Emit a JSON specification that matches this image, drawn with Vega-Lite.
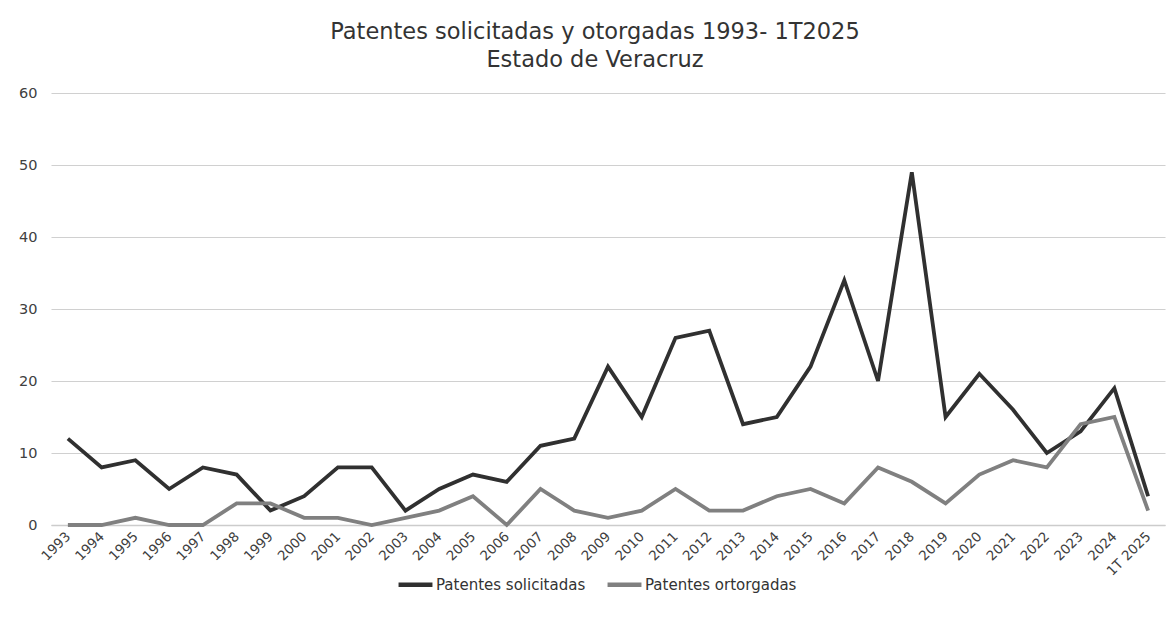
{
  "$schema": "https://vega.github.io/schema/vega-lite/v6.json",
  "autosize": "none",
  "width": 1114,
  "height": 432,
  "padding": {"left": 51, "top": 93, "right": 9, "bottom": 109},
  "background": "white",
  "title": {
    "text": ["Patentes solicitadas y otorgadas 1993- 1T2025", "Estado de Veracruz"],
    "font": "DejaVu Sans",
    "fontSize": 22.5,
    "fontWeight": "normal",
    "color": "#333333",
    "lineHeight": 28,
    "offset": 14,
    "dx": -13,
    "anchor": "middle"
  },
  "data": {
    "values": [
      {"periodo": "1993", "serie": "Patentes solicitadas", "valor": 12},
      {"periodo": "1994", "serie": "Patentes solicitadas", "valor": 8},
      {"periodo": "1995", "serie": "Patentes solicitadas", "valor": 9},
      {"periodo": "1996", "serie": "Patentes solicitadas", "valor": 5},
      {"periodo": "1997", "serie": "Patentes solicitadas", "valor": 8},
      {"periodo": "1998", "serie": "Patentes solicitadas", "valor": 7},
      {"periodo": "1999", "serie": "Patentes solicitadas", "valor": 2},
      {"periodo": "2000", "serie": "Patentes solicitadas", "valor": 4},
      {"periodo": "2001", "serie": "Patentes solicitadas", "valor": 8},
      {"periodo": "2002", "serie": "Patentes solicitadas", "valor": 8},
      {"periodo": "2003", "serie": "Patentes solicitadas", "valor": 2},
      {"periodo": "2004", "serie": "Patentes solicitadas", "valor": 5},
      {"periodo": "2005", "serie": "Patentes solicitadas", "valor": 7},
      {"periodo": "2006", "serie": "Patentes solicitadas", "valor": 6},
      {"periodo": "2007", "serie": "Patentes solicitadas", "valor": 11},
      {"periodo": "2008", "serie": "Patentes solicitadas", "valor": 12},
      {"periodo": "2009", "serie": "Patentes solicitadas", "valor": 22},
      {"periodo": "2010", "serie": "Patentes solicitadas", "valor": 15},
      {"periodo": "2011", "serie": "Patentes solicitadas", "valor": 26},
      {"periodo": "2012", "serie": "Patentes solicitadas", "valor": 27},
      {"periodo": "2013", "serie": "Patentes solicitadas", "valor": 14},
      {"periodo": "2014", "serie": "Patentes solicitadas", "valor": 15},
      {"periodo": "2015", "serie": "Patentes solicitadas", "valor": 22},
      {"periodo": "2016", "serie": "Patentes solicitadas", "valor": 34},
      {"periodo": "2017", "serie": "Patentes solicitadas", "valor": 20},
      {"periodo": "2018", "serie": "Patentes solicitadas", "valor": 49},
      {"periodo": "2019", "serie": "Patentes solicitadas", "valor": 15},
      {"periodo": "2020", "serie": "Patentes solicitadas", "valor": 21},
      {"periodo": "2021", "serie": "Patentes solicitadas", "valor": 16},
      {"periodo": "2022", "serie": "Patentes solicitadas", "valor": 10},
      {"periodo": "2023", "serie": "Patentes solicitadas", "valor": 13},
      {"periodo": "2024", "serie": "Patentes solicitadas", "valor": 19},
      {"periodo": "1T 2025", "serie": "Patentes solicitadas", "valor": 4},
      {"periodo": "1993", "serie": "Patentes ortorgadas", "valor": 0},
      {"periodo": "1994", "serie": "Patentes ortorgadas", "valor": 0},
      {"periodo": "1995", "serie": "Patentes ortorgadas", "valor": 1},
      {"periodo": "1996", "serie": "Patentes ortorgadas", "valor": 0},
      {"periodo": "1997", "serie": "Patentes ortorgadas", "valor": 0},
      {"periodo": "1998", "serie": "Patentes ortorgadas", "valor": 3},
      {"periodo": "1999", "serie": "Patentes ortorgadas", "valor": 3},
      {"periodo": "2000", "serie": "Patentes ortorgadas", "valor": 1},
      {"periodo": "2001", "serie": "Patentes ortorgadas", "valor": 1},
      {"periodo": "2002", "serie": "Patentes ortorgadas", "valor": 0},
      {"periodo": "2003", "serie": "Patentes ortorgadas", "valor": 1},
      {"periodo": "2004", "serie": "Patentes ortorgadas", "valor": 2},
      {"periodo": "2005", "serie": "Patentes ortorgadas", "valor": 4},
      {"periodo": "2006", "serie": "Patentes ortorgadas", "valor": 0},
      {"periodo": "2007", "serie": "Patentes ortorgadas", "valor": 5},
      {"periodo": "2008", "serie": "Patentes ortorgadas", "valor": 2},
      {"periodo": "2009", "serie": "Patentes ortorgadas", "valor": 1},
      {"periodo": "2010", "serie": "Patentes ortorgadas", "valor": 2},
      {"periodo": "2011", "serie": "Patentes ortorgadas", "valor": 5},
      {"periodo": "2012", "serie": "Patentes ortorgadas", "valor": 2},
      {"periodo": "2013", "serie": "Patentes ortorgadas", "valor": 2},
      {"periodo": "2014", "serie": "Patentes ortorgadas", "valor": 4},
      {"periodo": "2015", "serie": "Patentes ortorgadas", "valor": 5},
      {"periodo": "2016", "serie": "Patentes ortorgadas", "valor": 3},
      {"periodo": "2017", "serie": "Patentes ortorgadas", "valor": 8},
      {"periodo": "2018", "serie": "Patentes ortorgadas", "valor": 6},
      {"periodo": "2019", "serie": "Patentes ortorgadas", "valor": 3},
      {"periodo": "2020", "serie": "Patentes ortorgadas", "valor": 7},
      {"periodo": "2021", "serie": "Patentes ortorgadas", "valor": 9},
      {"periodo": "2022", "serie": "Patentes ortorgadas", "valor": 8},
      {"periodo": "2023", "serie": "Patentes ortorgadas", "valor": 14},
      {"periodo": "2024", "serie": "Patentes ortorgadas", "valor": 15},
      {"periodo": "1T 2025", "serie": "Patentes ortorgadas", "valor": 2}
    ]
  },
  "mark": {"type": "line", "strokeWidth": 3.8, "strokeJoin": "miter"},
  "encoding": {
    "x": {
      "field": "periodo",
      "type": "ordinal",
      "sort": null,
      "scale": {"type": "point", "padding": 0.5},
      "axis": {
        "title": null,
        "labelAngle": -45,
        "labelAlign": "right",
        "labelBaseline": "middle",
        "labelFont": "DejaVu Sans",
        "labelFontSize": 13.5,
        "labelColor": "#404040",
        "labelPadding": 9,
        "labelOverlap": false,
        "ticks": false,
        "domainColor": "#cccccc",
        "domainWidth": 1.5,
        "grid": false
      }
    },
    "y": {
      "field": "valor",
      "type": "quantitative",
      "scale": {"domain": [0, 60]},
      "axis": {
        "title": null,
        "values": [0, 10, 20, 30, 40, 50, 60],
        "labelFont": "DejaVu Sans",
        "labelFontSize": 14.5,
        "labelColor": "#404040",
        "labelPadding": 14,
        "ticks": false,
        "domain": false,
        "grid": true,
        "gridColor": "#d0d0d0",
        "gridWidth": 1.2
      }
    },
    "color": {
      "field": "serie",
      "type": "nominal",
      "sort": ["Patentes solicitadas", "Patentes ortorgadas"],
      "scale": {"domain": ["Patentes solicitadas", "Patentes ortorgadas"], "range": ["#303030", "#808080"]},
      "legend": {
        "title": null,
        "orient": "none",
        "legendX": 345,
        "legendY": 472,
        "direction": "horizontal",
        "labelFont": "DejaVu Sans",
        "labelFontSize": 15,
        "labelColor": "#333333",
        "symbolType": "stroke",
        "symbolStrokeWidth": 4.5,
        "symbolSize": 1150,
        "columnPadding": 12,
        "labelOffset": 1
      }
    }
  },
  "config": {
    "view": {"stroke": null}
  }
}
